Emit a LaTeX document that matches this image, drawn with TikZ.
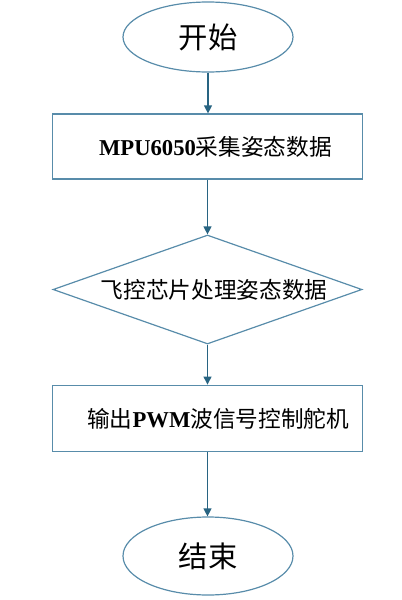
\documentclass[tikz,border=0pt]{standalone}
\usepackage{fontspec}
\setmainfont{Liberation Serif}
\newfontfamily\cjk{Noto Sans CJK SC}
\usetikzlibrary{shapes.geometric,arrows.meta}
\definecolor{edge}{RGB}{88,140,170}
\definecolor{arrowc}{RGB}{40,100,130}
\tikzset{
  term/.style={ellipse,draw=edge,line width=0.9pt,inner sep=0pt,minimum width=127.5pt,font=\cjk\fontsize{22}{24}\selectfont},
  procbox/.style={rectangle,draw=edge,line width=0.9pt,inner sep=0pt,minimum width=233pt,font=\fontsize{17}{19}\selectfont},
  decide/.style={diamond,aspect=2.83,draw=edge,line width=0.9pt,inner sep=0pt,minimum width=231.75pt,minimum height=81.75pt,font=\cjk\fontsize{17}{19}\selectfont},
  flow/.style={draw=arrowc,line width=0.9pt,-{Triangle[length=6pt,width=6pt]}}
}
\begin{document}
\begin{tikzpicture}[x=0.75pt,y=-0.75pt]
\useasboundingbox (0,0) rectangle (401,600);
\node[term,minimum height=52.5pt] (start) at (208,37) {开始};
\node[procbox,minimum height=48.75pt] (b1) at (207.5,146.5) {\hspace*{12pt}\textbf{MPU6050}{\cjk 采集姿态数据}};
\node[decide] (d) at (207.5,289.5) {\hspace*{10pt}飞控芯片处理姿态数据};
\node[procbox,minimum height=50pt] (b2) at (207.5,418.5) {\hspace*{16pt}{\cjk 输出}\textbf{PWM}{\cjk 波信号控制舵机}};
\node[term,minimum height=58.5pt] (end) at (208,556) {结束};
\draw[flow] (start.south) -- (start.south |- b1.north);
\draw[flow] (b1.south) -- (b1.south |- d.north);
\draw[flow] (d.south) -- (d.south |- b2.north);
\draw[flow] (b2.south) -- (b2.south |- end.north);
\end{tikzpicture}
\end{document}
